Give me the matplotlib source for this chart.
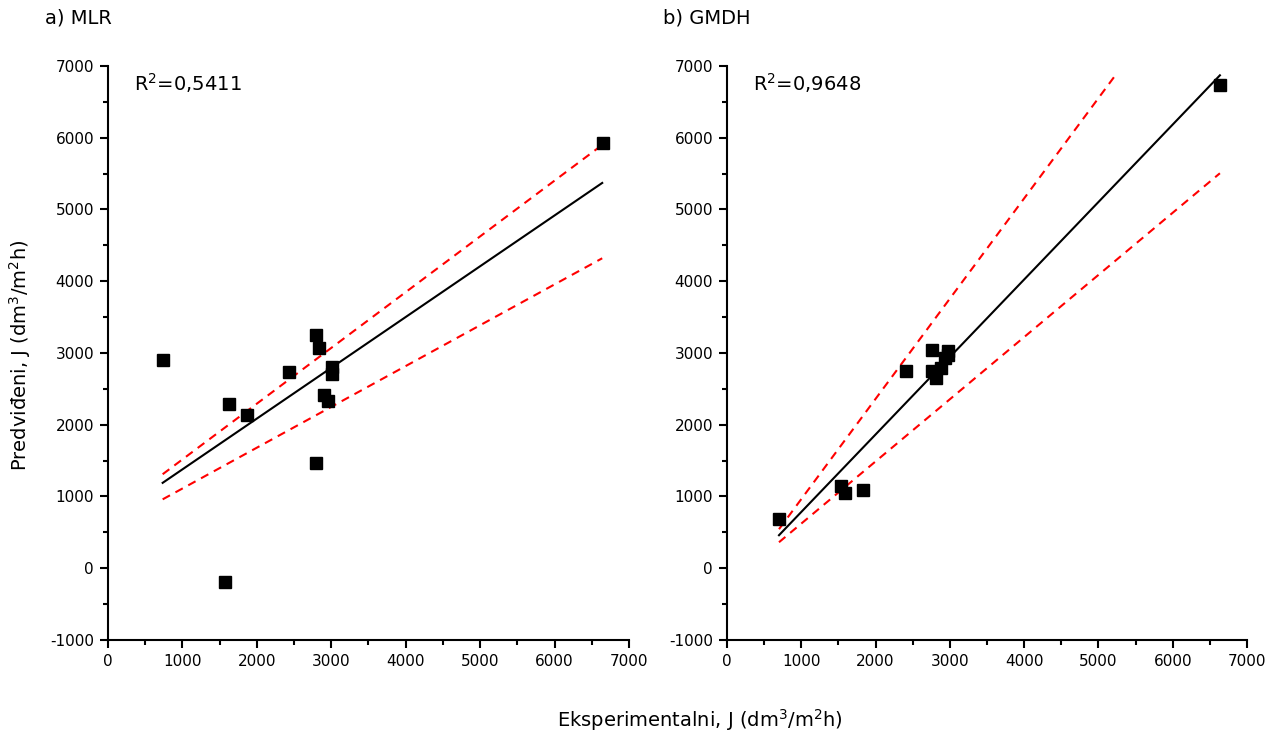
"""
Predicted vs experimental flux - MLR and GMDH models
"""
import numpy as np
import matplotlib.pyplot as plt
from matplotlib.ticker import MultipleLocator

plt.rcParams['font.family'] = ['DejaVu Sans']
plt.rcParams['axes.unicode_minus'] = False

# Experimental flux (same for both panels)
exp_mlr = [735, 1568, 1622, 1868, 2433, 2791, 2796, 2836, 2908, 2957, 3011, 3011, 6653]
pred_mlr = [2909, -190, 2290, 2142, 2741, 3247, 1463, 3070, 2416, 2327, 2806, 2713, 5923]

exp_gmdh = [700, 1539, 1588, 1835, 2405, 2755, 2764, 2809, 2876, 2934, 2979, 2979, 6635]
pred_gmdh = [683, 1147, 1050, 1087, 2755, 3048, 2755, 2658, 2792, 2937, 3029, 2969, 6732]

# Fit line and band endpoints
mlr_fit_x = [735, 6640]
mlr_fit_y = [1190, 5370]
mlr_up_y = [1310, 5900]
mlr_lo_y = [960, 4320]

gmdh_fit_x = [700, 6635]
gmdh_fit_y = [460, 6870]
gmdh_up_x = [700, 5249]
gmdh_up_y = [544, 6900]
gmdh_lo_x = [700, 6635]
gmdh_lo_y = [362, 5505]

fig = plt.figure(figsize=(12.79, 7.34), dpi=100)
ax1 = fig.add_axes([0.0844, 0.1281, 0.4074, 0.782])
ax2 = fig.add_axes([0.5684, 0.1281, 0.4066, 0.782])


def style(ax):
    ax.set_xlim(0, 7000)
    ax.set_ylim(-1000, 7000)
    ax.xaxis.set_major_locator(MultipleLocator(1000))
    ax.xaxis.set_minor_locator(MultipleLocator(500))
    ax.yaxis.set_major_locator(MultipleLocator(1000))
    ax.yaxis.set_minor_locator(MultipleLocator(500))
    ax.spines['top'].set_visible(False)
    ax.spines['right'].set_visible(False)
    for s in ['left', 'bottom']:
        ax.spines[s].set_linewidth(1.5)
    ax.tick_params(which='major', direction='out', length=6, width=1.5, labelsize=11, pad=4)
    ax.tick_params(which='minor', direction='out', length=3.5, width=1.5)


# ----- a) MLR -----
ax1.plot(mlr_fit_x, mlr_fit_y, color='black', lw=1.5, zorder=2)
ax1.plot(mlr_fit_x, mlr_up_y, color='red', lw=1.5, ls=(0, (4, 3)), zorder=2)
ax1.plot(mlr_fit_x, mlr_lo_y, color='red', lw=1.5, ls=(0, (4, 3)), zorder=2)
ax1.plot(exp_mlr, pred_mlr, 's', color='black', ms=8.5, zorder=3)
style(ax1)
ax1.text(0.05, 0.97, 'R$^2$=0,5411', transform=ax1.transAxes, fontsize=14, va='center')

# ----- b) GMDH -----
ax2.plot(gmdh_fit_x, gmdh_fit_y, color='black', lw=1.5, zorder=2)
ax2.plot(gmdh_up_x, gmdh_up_y, color='red', lw=1.5, ls=(0, (4, 3)), zorder=2)
ax2.plot(gmdh_lo_x, gmdh_lo_y, color='red', lw=1.5, ls=(0, (4, 3)), zorder=2)
ax2.plot(exp_gmdh, pred_gmdh, 's', color='black', ms=8.5, zorder=3)
style(ax2)
ax2.text(0.05, 0.97, 'R$^2$=0,9648', transform=ax2.transAxes, fontsize=14, va='center')

fig.text(45 / 1279, 1 - 18 / 734, 'a) MLR', fontsize=14, va='center', ha='left')
fig.text(663 / 1279, 1 - 18 / 734, 'b) GMDH', fontsize=14, va='center', ha='left')
fig.text(20 / 1279, 1 - 355 / 734, 'Predviđeni, J (dm$^3$/m$^2$h)', fontsize=14,
         rotation=90, va='center', ha='center')
fig.text(700 / 1279, 1 - 720 / 734, 'Eksperimentalni, J (dm$^3$/m$^2$h)', fontsize=14,
         va='center', ha='center')

fig.savefig('out.png', dpi=100, facecolor='white')
plt.close()
